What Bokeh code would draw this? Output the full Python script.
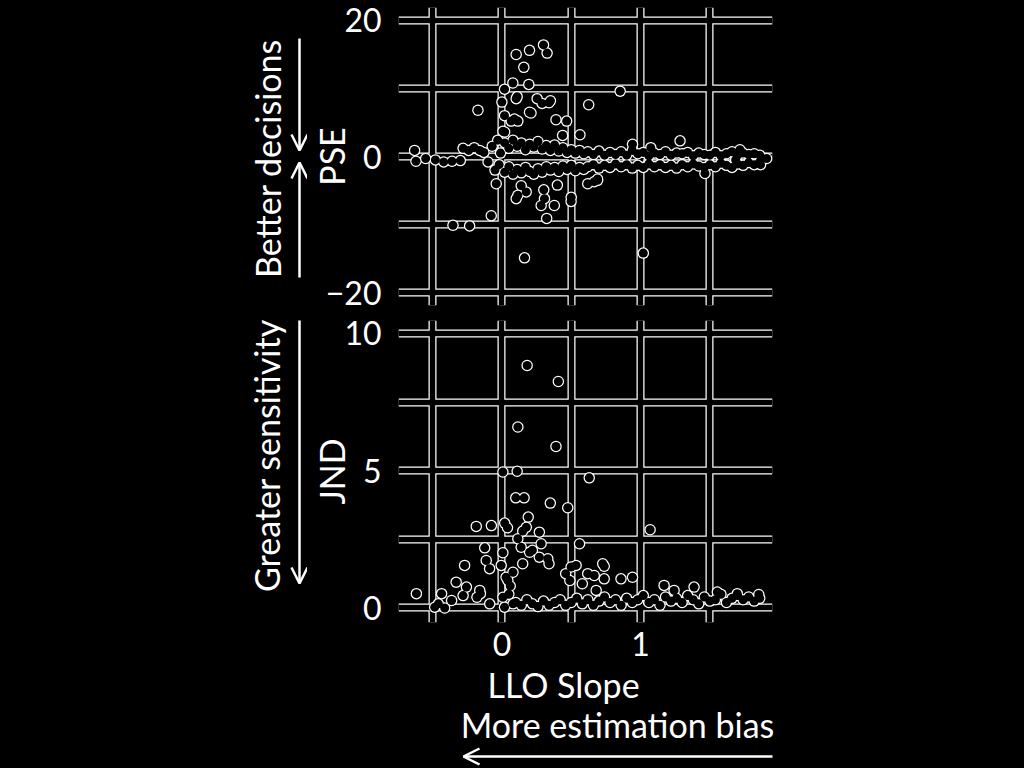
import math
from bokeh.plotting import figure
from bokeh.layouts import column, row
from bokeh.models import Range1d, FixedTicker, Grid, Arrow, OpenHead
from bokeh.core.properties import value
from bokeh.embed import file_html
from bokeh.resources import INLINE

# ---------------- data ----------------
# PSE panel: scattered participants
pse_x = [0.103, 0.199, 0.300, 0.326, 0.158, 0.079, 0.019, 0.194, 0.110, 0.000,
         -0.173, 0.254, 0.350, 0.290, 0.199, 0.067, 0.115, 0.390, 0.467, 0.563,
         0.438, 0.626, 0.007, 0.853, 1.285, 0.942, 1.074, 1.717, 1.686, 1.866,
         1.910, 1.465, 0.690, 1.020, 0.163, 0.103, 0.175, 0.302, 0.400, 0.283,
         0.378, 0.323, 0.499, 0.619, 0.666, -0.041, -0.077, -0.353, -0.233, 0.103,
         0.019, 0.090, 0.210, 0.340, 0.020, 0.115, 0.307, 0.500, 0.139, 0.690,
         -0.63, -0.62, -0.55, -0.48, -0.42, -0.36, -0.30, -0.28, -0.24, -0.20,
         -0.16, -0.13, -0.10, -0.07, -0.05, -0.03, -0.02, -0.01]
pse_y = [15.0, 15.6, 16.4, 15.2, 13.1, 10.8, 9.9, 10.6, 8.8, 8.0,
         6.8, 8.5, 8.2, 7.8, 6.5, 5.2, 5.2, 5.4, 5.2, 3.2,
         3.1, 7.6, 3.7, 9.6, 2.3, 1.8, 1.3, 1.0, -0.5, -1.2,
         -0.3, -2.5, -3.5, -14.2, -14.9, -6.2, -5.2, -4.9, -4.2, -7.2,
         -7.2, -9.1, -6.6, -4.0, -3.7, -4.0, -8.7, -10.1, -10.2, 8.5,
         6.0, 5.5, 6.4, 7.9, 3.6, -5.7, -6.2, -6.0, -4.3, -3.3,
         0.9, -0.7, -0.3, -0.5, -0.8, -0.7, -0.6, 1.2, 0.9, 1.3,
         0.9, 0.6, -0.8, 1.5, -2.0, 2.4, -1.2, 0.5]
# PSE panel: dense band of participants near zero
pse_band_x = [0.02, 0.05, 0.08, 0.11, 0.14, 0.17, 0.20, 0.23, 0.26, 0.29,
              0.32, 0.35, 0.38, 0.41, 0.44, 0.47, 0.50, 0.53, 0.56, 0.59,
              0.62, 0.66, 0.70, 0.74, 0.78, 0.82, 0.86, 0.90, 0.94, 0.98,
              1.02, 1.06, 1.10, 1.14, 1.18, 1.22, 1.26, 1.30, 1.34, 1.38,
              1.42, 1.46, 1.50, 1.54, 1.58, 1.62, 1.66, 1.70, 1.74, 1.78,
              1.82, 1.86]
pse_band_upper = [2.0, 1.2, 2.4, 1.5, 2.0, 1.0, 1.8, 1.4, 2.2, 1.1,
                  1.6, 0.9, 1.7, 0.8, 1.3, 0.6, 1.0, 0.5, 0.9, 0.4,
                  0.7, 0.3, 0.8, 0.2, 0.6, 0.3, 0.7, 0.2, 0.9, 0.4,
                  0.6, 0.1, 0.5, 0.3, 0.7, 0.2, 0.5, 0.4, 0.6, 0.1,
                  0.5, 0.3, 0.2, 0.6, 0.1, 0.4, 0.7, 0.2, 0.5, 0.3,
                  0.4, 0.2]
pse_band_lower = [-2.3, -1.5, -2.6, -1.9, -2.4, -1.6, -2.2, -2.6, -1.8, -2.3,
                  -1.5, -2.0, -1.6, -2.2, -1.4, -1.9, -1.3, -2.1, -1.6, -1.9,
                  -1.5, -1.2, -1.7, -1.3, -1.6, -1.1, -1.5, -1.2, -1.7, -1.3,
                  -1.6, -1.1, -1.5, -1.2, -1.6, -1.3, -1.7, -1.2, -1.5, -1.1,
                  -1.4, -1.6, -1.2, -1.5, -1.0, -1.3, -1.6, -1.1, -1.3, -0.9,
                  -1.2, -0.8]

# JND panel: scattered participants
jnd_x = [0.182, 0.407, 0.115, 0.390, 0.007, 0.110, 0.630, 0.100, 0.160, 0.349,
         0.475, 1.069, -0.185, -0.076, 0.020, 0.040, 0.190, 0.176, 0.270, 0.283,
         0.115, 0.139, -0.124, 0.007, 0.200, 0.560, -0.113, -0.089, -0.269, -0.005,
         0.331, 0.499, 0.619, 0.738, 0.666, 0.738, 0.859, 0.942, 1.170, 1.242,
         1.386, 1.554, 1.698, 1.853, -0.330, -0.256, -0.155, -0.088, -0.363, -0.435,
         -0.459, -0.617, -0.485, -0.413, 0.043, 0.007, 0.019, 0.150, 0.220, 0.270,
         0.150, 0.340, 0.535, 0.727, 0.030, -0.160, -0.180, -0.280, 0.080, 0.460,
         0.490, 0.580, 0.680, 0.050, 0.080, 0.060]
jnd_y = [8.83, 8.25, 6.59, 5.88, 4.95, 4.98, 4.74, 4.01, 4.01, 3.82,
         3.65, 2.85, 2.97, 3.00, 3.09, 2.92, 3.31, 2.94, 2.76, 2.34,
         2.52, 2.21, 2.19, 2.01, 2.03, 2.34, 1.73, 1.43, 1.55, 1.55,
         1.79, 1.49, 1.25, 1.52, 1.18, 1.06, 1.06, 1.12, 0.82, 0.64,
         0.76, 0.58, 0.52, 0.49, 0.94, 0.76, 0.52, 0.15, 0.27, 0.52,
         0.15, 0.52, 0.03, 0.00, 1.00, 0.39, 0.03, 2.80, 2.10, 1.85,
         1.61, 1.61, 1.55, 1.61, 1.12, 0.64, 0.39, 0.45, 0.15, 1.25,
         1.00, 0.88, 0.64, 0.50, 1.30, 0.80]
# JND panel: dense band near zero
jnd_band_x = [0.10, 0.14, 0.18, 0.22, 0.26, 0.30, 0.34, 0.38, 0.42, 0.46,
              0.50, 0.54, 0.58, 0.62, 0.66, 0.70, 0.74, 0.78, 0.82, 0.86,
              0.90, 0.94, 0.98, 1.02, 1.06, 1.10, 1.14, 1.18, 1.22, 1.26,
              1.30, 1.34, 1.38, 1.42, 1.46, 1.50, 1.54, 1.58, 1.62, 1.66,
              1.70, 1.74, 1.78, 1.82, 1.86]
jnd_band_y = [0.20, 0.10, 0.30, 0.15, 0.05, 0.25, 0.10, 0.20, 0.30, 0.10,
              0.20, 0.35, 0.15, 0.30, 0.10, 0.25, 0.40, 0.20, 0.30, 0.10,
              0.35, 0.20, 0.30, 0.45, 0.20, 0.30, 0.10, 0.40, 0.25, 0.35,
              0.20, 0.45, 0.30, 0.15, 0.40, 0.25, 0.30, 0.50, 0.20, 0.35,
              0.45, 0.30, 0.40, 0.25, 0.35]

x_ticks = [0, 1]
x_grid = [-0.5, 0, 0.5, 1, 1.5]
pse_ticks = [-20, 0, 20]
pse_grid = [-20, -10, 0, 10, 20]
jnd_ticks = [0, 5, 10]
jnd_grid = [0, 2.5, 5, 7.5, 10]

# ---------------- style ----------------
FONT = "Lato"
BG = "black"
FG = "white"
DARK = {"background-color": "black"}

def panel(height, yr, yticks, ygrid, ylabel, label_standoff, with_x, border_bottom):
    p = figure(width=717, height=height,
               x_range=Range1d(-0.746, 1.952), y_range=Range1d(*yr),
               output_backend="svg", toolbar_location=None,
               x_axis_location="below" if with_x else None,
               min_border_left=90, min_border_right=252,
               min_border_top=7, min_border_bottom=border_bottom,
               background_fill_color=BG, border_fill_color=BG,
               outline_line_color=None, styles=DARK)
    p.grid.visible = False
    # outlined grid: thick white lines, then black cores on top
    for color, w in ((FG, 8), (BG, 5.5)):
        for dim, ticks in ((0, x_grid), (1, ygrid)):
            p.add_layout(Grid(dimension=dim, ticker=FixedTicker(ticks=ticks),
                              grid_line_color=color, grid_line_width=w), "center")
    axes = list(p.yaxis) + (list(p.xaxis) if with_x else [])
    for ax in axes:
        ax.axis_line_color = None
        ax.major_tick_line_color = None
        ax.minor_tick_line_color = None
        ax.major_label_text_font = FONT
        ax.major_label_text_font_size = "32px"
        ax.major_label_text_color = FG
    ya = p.yaxis[0]
    ya.ticker = FixedTicker(ticks=yticks)
    ya.major_label_standoff = 11
    ya.axis_label = ylabel
    ya.axis_label_text_font = FONT
    ya.axis_label_text_font_size = "34px"
    ya.axis_label_text_font_style = "normal"
    ya.axis_label_text_color = FG
    ya.axis_label_standoff = label_standoff
    if with_x:
        xa = p.xaxis[0]
        xa.ticker = FixedTicker(ticks=x_ticks)
        xa.major_label_standoff = 3
    return p

def dots(p, xs, ys):
    p.scatter(xs, ys, size=11.5, fill_color=FG, line_color=None)
    p.scatter(xs, ys, size=9, fill_color=BG, line_color=None)

top = panel(313, (-21.9, 21.9), pse_ticks, pse_grid, "PSE", -29, False, 8)
dots(top, pse_x + pse_band_x + pse_band_x, pse_y + pse_band_upper + pse_band_lower)

bot = panel(351, (-0.53, 10.47), jnd_ticks, jnd_grid, "JND", -11, True, 42)
dots(bot, jnd_x + jnd_band_x, jnd_y + jnd_band_y)

# left annotation strip (pixel coordinates, y downward)
left = figure(width=307, height=664, x_range=Range1d(0, 307), y_range=Range1d(664, 0),
              output_backend="svg", toolbar_location=None,
              x_axis_location=None, y_axis_location=None, min_border=0,
              background_fill_color=BG, border_fill_color=BG, outline_line_color=None,
              styles=DARK)
left.grid.visible = False
left.text(x=[267, 266], y=[158, 455], text=["Better decisions", "Greater sensitivity"],
          angle=math.pi / 2, text_align="center", text_baseline="alphabetic",
          text_font=value(FONT), text_font_size=value("34px"), text_color=FG)
for xs, ys, xe, ye in ((299, 38, 299, 150), (299, 277, 299, 162), (299, 320, 299, 583)):
    left.add_layout(Arrow(x_start=xs, y_start=ys, x_end=xe, y_end=ye,
                          line_color=FG, line_width=2.5,
                          end=OpenHead(size=16, line_color=FG, line_width=2.5)))

# bottom annotation strip (pixel coordinates, y downward)
foot = figure(width=1024, height=104, x_range=Range1d(0, 1024), y_range=Range1d(768, 664),
              output_backend="svg", toolbar_location=None,
              x_axis_location=None, y_axis_location=None, min_border=0,
              background_fill_color=BG, border_fill_color=BG, outline_line_color=None,
              styles=DARK)
foot.grid.visible = False
foot.text(x=[563, 617], y=[684, 724], text=["LLO Slope", "More estimation bias"],
          text_align="center", text_baseline="alphabetic",
          text_font=value(FONT), text_font_size=value("34px"), text_color=FG)
foot.add_layout(Arrow(x_start=772, y_start=756, x_end=463, y_end=756,
                      line_color=FG, line_width=2.5,
                      end=OpenHead(size=16, line_color=FG, line_width=2.5)))

layout = column(row(left, column(top, bot, styles=DARK), styles=DARK), foot, styles=DARK)
open("out.html", "w").write(file_html(layout, INLINE))
